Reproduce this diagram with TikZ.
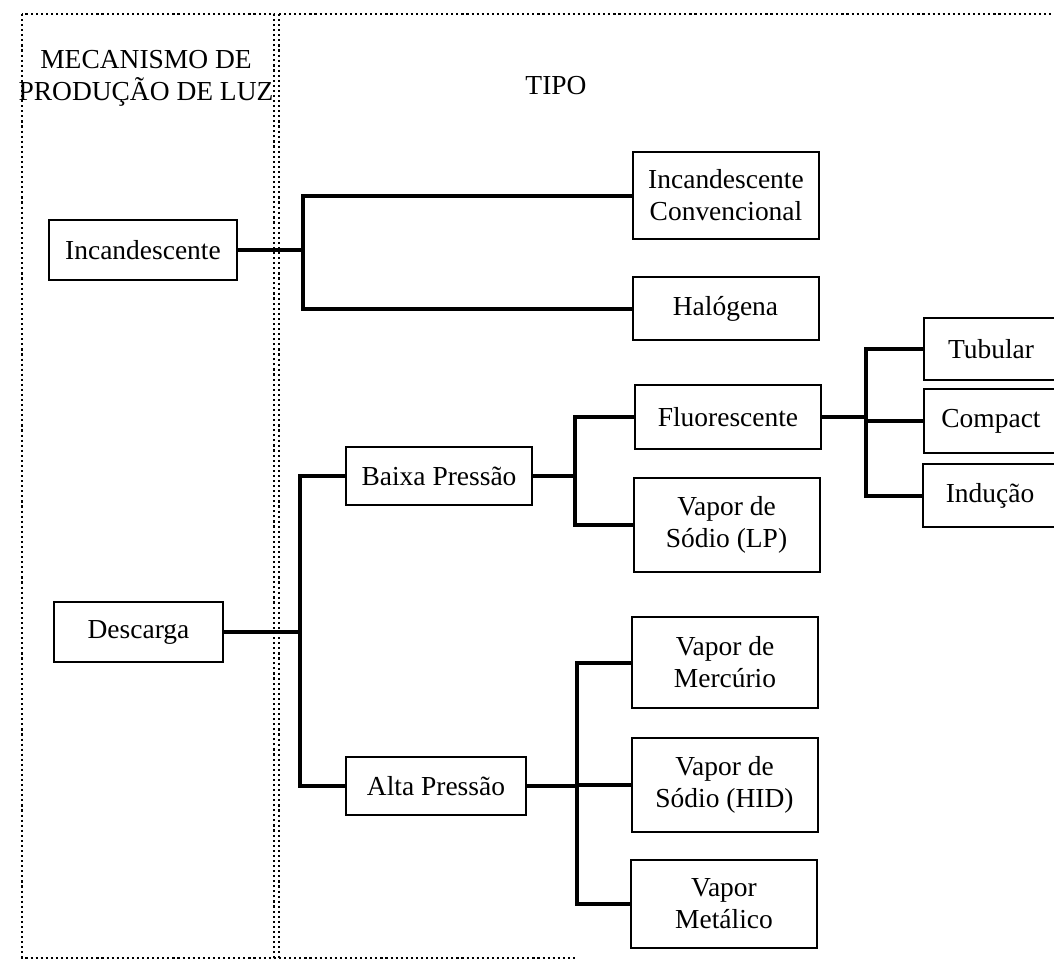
\documentclass[tikz,border=0pt]{standalone}
\usepackage{fontspec}
\setmainfont{Liberation Serif}
\begin{document}
\begin{tikzpicture}[x=0.75pt,y=-0.75pt,
  box/.style={draw, line width=1.5pt, align=center, inner sep=0pt,
    font=\fontsize{20.6}{24}\selectfont},
  col/.style={minimum width=139.5pt},
  tail/.style={minimum width=100.5pt},
  link/.style={line width=3pt},
  frame/.style={line width=1.3pt, dash pattern=on 1.6pt off 2.2pt},
  lbl/.style={align=center, font=\fontsize{20.6}{24}\selectfont}]
\useasboundingbox (0,0) rectangle (1054,971);
\clip (0,0) rectangle (1054,971);

% dotted column frames
\draw[frame] (22,14) rectangle (274,958);
\draw[frame] (279,14) -- (279,958);
\draw[frame] (279,14) -- (1054,14);
\draw[frame] (274,958) -- (575,958);

% column headings
\node[lbl] (mech) at (146,78) {MECANISMO DE\\PRODUÇÃO DE LUZ};
\node[lbl] (tipo) at (556,86) {TIPO};

% mechanism
\node[box, minimum width=141pt, minimum height=45pt] (inc) at (143,250) {Incandescente};
\node[box, minimum width=126.75pt, minimum height=45pt] (desc) at (138.5,632) {Descarga};

% pressure
\node[box, minimum width=139.5pt, minimum height=43.5pt] (baixa) at (439,476) {Baixa Pressão};
\node[box, minimum width=135pt, minimum height=43.5pt] (alta) at (436,786) {Alta Pressão};

% lamp types
\node[box, col, minimum height=65.25pt] (incconv) at (726,195.5) {Incandescente\\Convencional};
\node[box, col, minimum height=47.25pt] (halo) at (725.5,308.5) {Halógena};
\node[box, col, minimum height=48pt] (fluo) at (728,417) {Fluorescente};
\node[box, col, minimum height=70.5pt] (sodlp) at (726.5,525) {Vapor de\\Sódio (LP)};
\node[box, col, minimum height=68.25pt] (merc) at (725,662.5) {Vapor de\\Mercúrio};
\node[box, col, minimum height=70.5pt] (sodhid) at (724.5,785) {Vapor de\\Sódio (HID)};
\node[box, col, minimum height=66pt] (metal) at (724,904) {Vapor\\Metálico};

% fluorescent variants
\node[box, tail, minimum height=46.5pt] (tub) at (991,349) {Tubular};
\node[box, tail, minimum height=48pt] (comp) at (991,421) {Compact};
\node[box, tail, minimum height=47.25pt] (indu) at (990,495.5) {Indução};

% bus positions
\coordinate (b1) at (303,250);
\coordinate (b2) at (300,632);
\coordinate (b3) at (575,476);
\coordinate (b4) at (866,417);
\coordinate (b5) at (577,786);

% connectors
\draw[link] (inc.east) -- (inc.east -| b1);
\draw[link] (incconv.west) -| (b1) |- (halo.west);
\draw[link] (desc.east) -- (desc.east -| b2);
\draw[link] (baixa.west) -| (b2) |- (alta.west);
\draw[link] (baixa.east) -- (baixa.east -| b3);
\draw[link] (fluo.west) -| (b3) |- (sodlp.west);
\draw[link] (fluo.east) -- (fluo.east -| b4);
\draw[link] (tub.west) -| (b4) |- (indu.west);
\draw[link] (comp.west) -- (comp.west -| b4);
\draw[link] (alta.east) -- (alta.east -| b5);
\draw[link] (merc.west) -| (b5) |- (metal.west);
\draw[link] (sodhid.west) -- (sodhid.west -| b5);
\end{tikzpicture}
\end{document}
